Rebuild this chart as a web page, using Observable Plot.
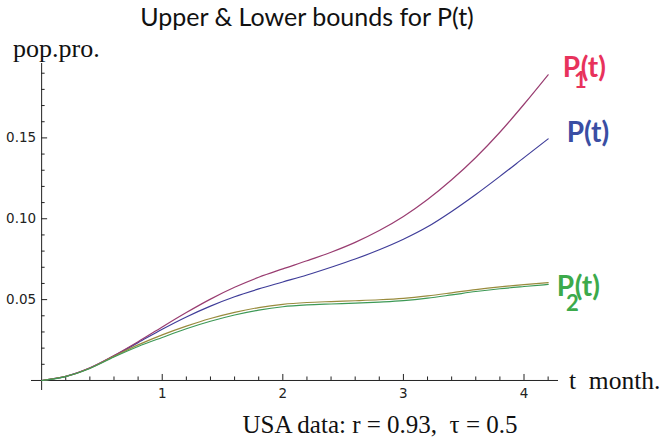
<!DOCTYPE html>
<html>
<head>
<meta charset="utf-8">
<script src="https://cdn.jsdelivr.net/npm/d3@7"></script>
<script src="https://cdn.jsdelivr.net/npm/@observablehq/plot@0.6"></script>
<style>
  html, body { margin: 0; padding: 0; background: #fff; }
  #chart svg { display: block; overflow: visible; }
</style>
</head>
<body>
<div id="chart"></div>
<script>
// time in months
const t = [0, 0.2, 0.4, 0.6, 0.8, 1.0, 1.2, 1.4, 1.6, 1.8, 2.0, 2.2, 2.4, 2.6, 2.8, 3.0, 3.2, 3.4, 3.6, 3.8, 4.0, 4.2];
// P(t) (blue)
const pMid = [0, 0.0025, 0.0077, 0.0152, 0.0234, 0.0317, 0.0393, 0.0460, 0.0518, 0.0566, 0.0609, 0.0652, 0.0700, 0.0751, 0.0808, 0.0873, 0.0950, 0.1045, 0.1150, 0.1262, 0.1378, 0.1494];
// P1(t) upper bound (magenta)
const pUpper = [0, 0.0025, 0.0078, 0.0154, 0.0240, 0.0331, 0.0420, 0.0503, 0.0576, 0.0638, 0.0690, 0.0740, 0.0793, 0.0854, 0.0927, 0.1014, 0.1119, 0.1241, 0.1379, 0.1535, 0.1708, 0.1890];
// companion lower curve (gold)
const pLowA = [0, 0.0025, 0.0076, 0.0149, 0.0220, 0.0282, 0.0336, 0.0383, 0.0421, 0.0451, 0.0471, 0.0482, 0.0488, 0.0493, 0.0499, 0.0508, 0.0523, 0.0542, 0.0562, 0.0579, 0.0593, 0.0605];
// P2(t) lower bound (green)
const pLower = [0, 0.0024, 0.0074, 0.0145, 0.0210, 0.0266, 0.0320, 0.0366, 0.0405, 0.0435, 0.0456, 0.0467, 0.0473, 0.0478, 0.0485, 0.0494, 0.0509, 0.0529, 0.0550, 0.0567, 0.0581, 0.0594];

const xMajor = [1, 2, 3, 4];
const xMinor = [0.2, 0.4, 0.6, 0.8, 1.2, 1.4, 1.6, 1.8, 2.2, 2.4, 2.6, 2.8, 3.2, 3.4, 3.6, 3.8, 4.2];
const yMajor = [0.05, 0.10, 0.15];
const yMinor = [0.01, 0.02, 0.03, 0.04, 0.06, 0.07, 0.08, 0.09, 0.11, 0.12, 0.13, 0.14, 0.16, 0.17, 0.18, 0.19];

const series = [
  {key: "P", values: pMid, color: "#3f3d99"},
  {key: "P1", values: pUpper, color: "#993d71"},
  {key: "PA", values: pLowA, color: "#998b3d"},
  {key: "P2", values: pLower, color: "#3d9956"}
];
const rows = series.map(s => t.map((tt, i) => ({t: tt, v: s.values[i]})));

const axisColor = "#222";
const tickFont = {fontFamily: "DejaVu Sans", fontSize: 13.5, fill: "#222"};

const chart = Plot.plot({
  width: 663,
  height: 441,
  marginLeft: 31,
  marginRight: 105,
  marginTop: 63,
  marginBottom: 51,
  x: {domain: [-0.084, 4.286], axis: null},
  y: {domain: [-0.0062, 0.196], axis: null},
  marks: [
    Plot.ruleY([0], {stroke: axisColor, strokeWidth: 1}),
    Plot.ruleX([0], {stroke: axisColor, strokeWidth: 1}),
    Plot.ruleX(xMinor, {x: d => d, y1: 0, y2: 0, insetTop: -3.5, stroke: axisColor}),
    Plot.ruleX(xMajor, {x: d => d, y1: 0, y2: 0, insetTop: -6, stroke: axisColor}),
    Plot.ruleY(yMinor, {y: d => d, x1: 0, x2: 0, insetRight: -3.5, stroke: axisColor}),
    Plot.ruleY(yMajor, {y: d => d, x1: 0, x2: 0, insetRight: -6, stroke: axisColor}),
    Plot.text(xMajor, {x: d => d, y: 0, text: d => String(d), dy: 13.5, ...tickFont}),
    Plot.text(yMajor, {x: 0, y: d => d, text: d => d.toFixed(2), textAnchor: "end", dx: -5.5, ...tickFont}),
    ...series.map((s, k) => Plot.line(rows[k], {x: "t", y: "v", stroke: s.color, strokeWidth: 1.2, curve: "monotone-x"}))
  ]
});

document.getElementById("chart").appendChild(chart);

const svg = d3.select(chart);
const xs = chart.scale("x"), ys = chart.scale("y");
const tEnd = t[t.length - 1];
const ex = xs.apply(tEnd);

function addText(x, y, str, opts) {
  return svg.append("text")
    .attr("x", x).attr("y", y)
    .attr("font-family", opts.family)
    .attr("font-size", opts.size)
    .attr("font-weight", opts.weight || 400)
    .attr("fill", opts.fill || "#111")
    .attr("text-anchor", opts.anchor || "start")
    .style("white-space", "pre")
    .text(str);
}

// label "P_k(t)" as one text element with a dropped, overlapping subscript
function addCurveLabel(x, y, sub, fill, subDx, subDy) {
  const el = svg.append("text")
    .attr("x", x).attr("y", y)
    .attr("font-family", "Lato")
    .attr("font-size", 28)
    .attr("font-weight", 700)
    .attr("text-anchor", "start")
    .attr("fill", fill);
  el.append("tspan").text("P");
  if (sub) {
    el.append("tspan").attr("dx", subDx).attr("dy", subDy).attr("font-size", 22).text(sub);
    // step back over the subscript so "(t)" follows the P
    el.append("tspan").attr("dx", -(subDx + 12)).attr("dy", -subDy).text("(t)");
  } else {
    el.append("tspan").text("(t)");
  }
}

// Title and axis labels
addText(307, 26, "Upper & Lower bounds for P(t)", {family: "Lato", size: 25, anchor: "middle"});
addText(13, 57, "pop.pro.", {family: "Liberation Serif", size: 26});
addText(569, 389, "t  month.", {family: "Liberation Serif", size: 25.5});
addText(380, 433, "USA data: r = 0.93,  \u03c4 = 0.5", {family: "Liberation Serif", size: 25, anchor: "middle"});

// Curve labels anchored to curve ends
const y1 = ys.apply(pUpper[pUpper.length - 1]);
const y0 = ys.apply(pMid[pMid.length - 1]);
const y2 = ys.apply(pLower[pLower.length - 1]);
addCurveLabel(ex + 15, y1 + 2.5, "1", "#e8325c", -6, 11.5);
addCurveLabel(ex + 19, y0 + 3.5, null, "#3a4ea3");
addCurveLabel(ex + 9, y2 + 12, "2", "#3caa4b", -8, 15);
</script>
</body>
</html>
